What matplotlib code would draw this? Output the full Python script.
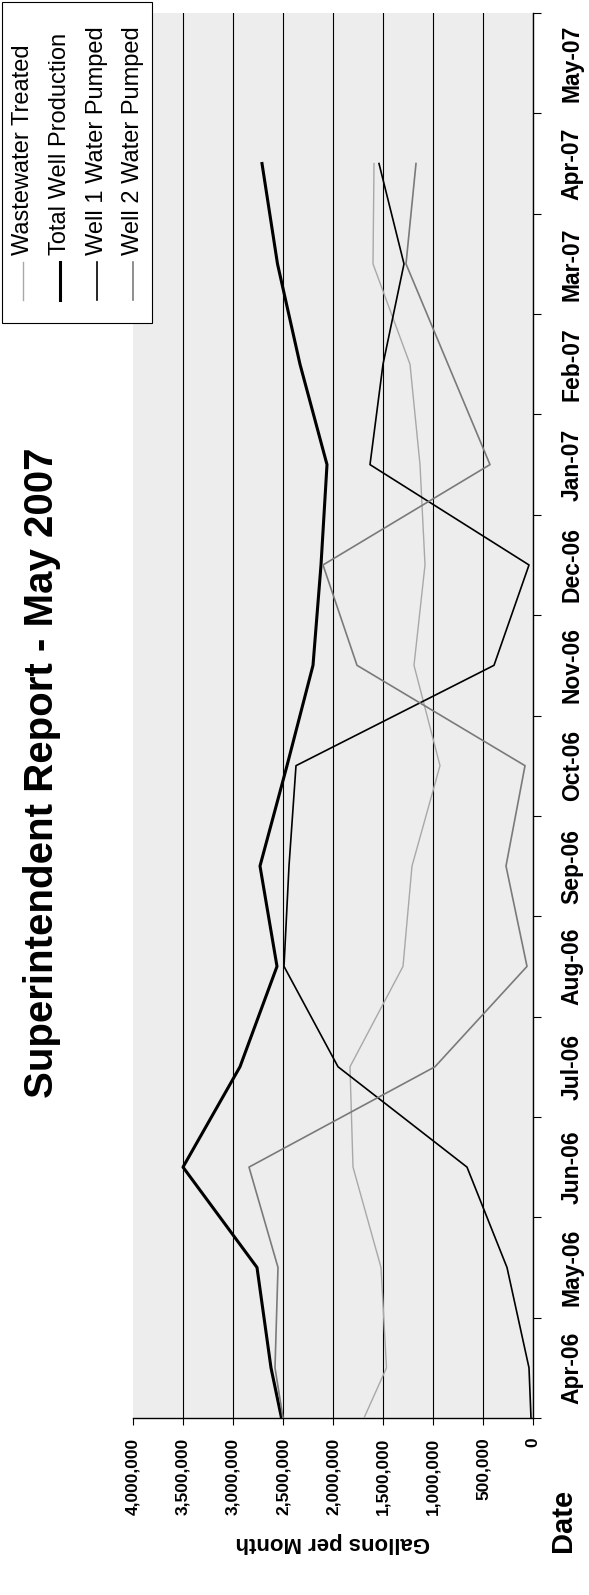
import matplotlib
matplotlib.use('Agg')
import matplotlib.pyplot as plt
from matplotlib.lines import Line2D
from matplotlib.patches import Rectangle

plt.rcParams['font.family'] = ['Liberation Sans', 'DejaVu Sans']

# monthly data (Mar-06 point sits below the axis start, so its segment is clipped)
months = ['Mar-06', 'Apr-06', 'May-06', 'Jun-06', 'Jul-06', 'Aug-06', 'Sep-06',
          'Oct-06', 'Nov-06', 'Dec-06', 'Jan-07', 'Feb-07', 'Mar-07', 'Apr-07']
date_labels = ['Apr-06', 'May-06', 'Jun-06', 'Jul-06', 'Aug-06', 'Sep-06', 'Oct-06',
               'Nov-06', 'Dec-06', 'Jan-07', 'Feb-07', 'Mar-07', 'Apr-07', 'May-07']

wastewater = [1915000, 1465000, 1520000, 1800000, 1830000, 1300000, 1210000,
              930000, 1190000, 1080000, 1130000, 1230000, 1600000, 1590000]
total_well = [2410000, 2620000, 2760000, 3500000, 2930000, 2560000, 2730000,
              2460000, 2200000, 2120000, 2060000, 2330000, 2555000, 2710000]
well1 = [0, 40000, 260000, 660000, 1950000, 2490000, 2440000,
         2370000, 390000, 40000, 1630000, 1500000, 1290000, 1540000]
well2 = [2420000, 2580000, 2550000, 2840000, 980000, 60000, 270000,
         80000, 1760000, 2100000, 430000, 850000, 1270000, 1170000]

series_names = ['Wastewater Treated', 'Total Well Production',
                'Well 1 Water Pumped', 'Well 2 Water Pumped']
series_data = [wastewater, total_well, well1, well2]
series_color = ['#a8a8a8', 'black', 'black', '#7a7a7a']
series_lw = [1.0, 2.2, 1.2, 1.2]

value_ticks = list(range(0, 4000001, 500000))

W, H = 589, 1595
fig = plt.figure(figsize=(W / 100, H / 100), dpi=100)
fig.patch.set_facecolor('white')

# chart is the landscape original turned a quarter turn: value axis runs right->left
ax = fig.add_axes([133 / W, 1 - 1418 / H, 400 / W, 1405 / H])
ax.set_facecolor('#ededed')
pos = [i - 1 for i in range(len(months))]
for vals, c, lw in zip(series_data, series_color, series_lw):
    ax.plot(vals, pos, color=c, lw=lw, zorder=3)

ax.set_xlim(4000000, 0)
ax.set_ylim(-0.5, len(date_labels) - 0.5)

ax.set_xticks(value_ticks)
ax.set_xticklabels(['{:,}'.format(v) for v in value_ticks], rotation=90,
                   fontsize=12.5, fontweight='bold')
ax.xaxis.grid(True, color='black', lw=0.8)
for gl, v in zip(ax.get_xgridlines(), value_ticks):
    if v == 4000000:
        gl.set_visible(False)
ax.tick_params(axis='x', length=5, pad=9, direction='out')

ax.yaxis.tick_right()
ax.set_yticks([i - 0.5 for i in range(len(date_labels) + 1)])
ax.set_yticklabels([])
ax.set_yticks(range(len(date_labels)), minor=True)
ax.set_yticklabels(date_labels, minor=True, rotation=90, va='center',
                   fontsize=16.5, fontweight='bold')
ax.tick_params(axis='y', which='major', length=6, direction='out')
ax.tick_params(axis='y', which='minor', length=0, pad=20)

for s in ['left', 'top']:
    ax.spines[s].set_visible(False)
ax.spines['right'].set_linewidth(1.0)
ax.spines['bottom'].set_linewidth(1.0)

fig.text(42 / W, 1 - 773 / H, 'Superintendent Report - May 2007', rotation=90,
         ha='center', va='center', fontsize=29, fontweight='bold')
fig.text(333 / W, 1 - 1543 / H, 'Gallons per Month', rotation=180,
         ha='center', va='center', fontsize=16, fontweight='bold')
fig.text(563 / W, 1 - 1552 / H, 'Date', rotation=90,
         ha='center', va='bottom', fontsize=21, fontweight='bold')

# legend box, drawn by hand because the text is turned
fig.add_artist(Rectangle((2 / W, 1 - 323 / H), 150 / W, 321 / H, transform=fig.transFigure,
                         facecolor='white', edgecolor='black', lw=0.8, zorder=5))
col_x = [23, 60, 97, 133]
for name, c, lw, x in zip(series_names, series_color, series_lw, col_x):
    fig.add_artist(Line2D([x / W, x / W], [1 - 300 / H, 1 - 262 / H],
                          transform=fig.transFigure, color=c, lw=lw, zorder=6))
    fig.text(x / W, 1 - 255 / H, name, rotation=90, ha='center', va='bottom',
             fontsize=17, zorder=6)

fig.savefig('out.png', dpi=100)
plt.close()
